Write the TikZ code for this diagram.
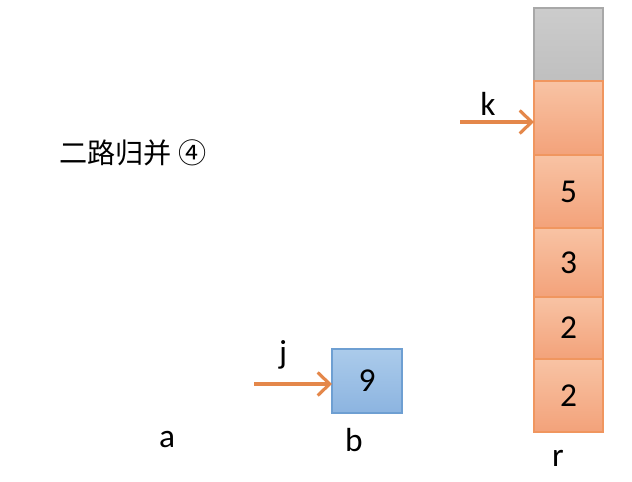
\documentclass[tikz,border=0pt]{standalone}
\usepackage{fontspec}
\setmainfont{Carlito}
\newfontfamily\cjk{Noto Sans CJK SC}
\usetikzlibrary{arrows.meta}
\definecolor{cellline}{HTML}{F0965F}
\definecolor{celltop}{HTML}{F8C3A4}
\definecolor{cellbot}{HTML}{F3A27A}
\definecolor{grayline}{HTML}{A8A8A8}
\definecolor{bline}{HTML}{6E9FD2}
\definecolor{btop}{HTML}{ABCBEB}
\definecolor{bbot}{HTML}{8CB4E0}
\definecolor{ptrcol}{HTML}{E4874A}

\tikzset{
  cell/.style={draw=cellline, line width=0.6pt, top color=celltop, bottom color=cellbot,
               minimum width=1.38cm, inner sep=0pt, outer sep=0pt, font=\fontsize{19}{22}\selectfont},
  ptr/.style={draw=ptrcol, line width=1.8pt, -{Straight Barb[length=2.4mm,width=4.6mm]}},
  lbl/.style={font=\fontsize{19}{22}\selectfont, inner sep=0pt}
}

\begin{document}
\begin{tikzpicture}[x=0.02cm, y=-0.02cm]
        \useasboundingbox (0, 0) rectangle (632, 482);
        % title
        \node[lbl, font=\fontsize{16}{20}\selectfont, anchor=west] (title) at (59, 153) {\cjk 二路归并 ④};
        % array r
        \node[cell, draw=grayline, top color=gray!40, bottom color=gray!50, minimum height=1.46cm] (r0) at (568.5, 44.5) {};
        \node[cell, minimum height=1.48cm] (r1) at (568.5, 118) {};
        \node[cell, minimum height=1.46cm] (r2) at (568.5, 191.5) {5};
        \node[cell, minimum height=1.38cm] (r3) at (568.5, 262.5) {3};
        \node[cell, minimum height=1.24cm] (r4) at (568.5, 328) {2};
        \node[cell, minimum height=1.46cm] (r5) at (568.5, 395.5) {2};
        % array b
        \node[cell, draw=bline, top color=btop, bottom color=bbot, minimum width=1.40cm, minimum height=1.28cm] (b0) at (367, 381) {9};
        % pointers
        \coordinate (ktail) at (460, 122);
        \draw[ptr] (ktail) -- (ktail -| r1.west);
        \node[lbl] (k) at (488, 104) {k};
        \coordinate (jtail) at (254, 384);
        \draw[ptr] (jtail) -- (jtail -| b0.west);
        \node[lbl] (j) at (283, 355) {j};
        % names
        \node[lbl] (a) at (167, 440) {a};
        \node[lbl] (b) at (354, 440) {b};
        \node[lbl] (r) at (558, 458) {r};
\end{tikzpicture}
\end{document}
